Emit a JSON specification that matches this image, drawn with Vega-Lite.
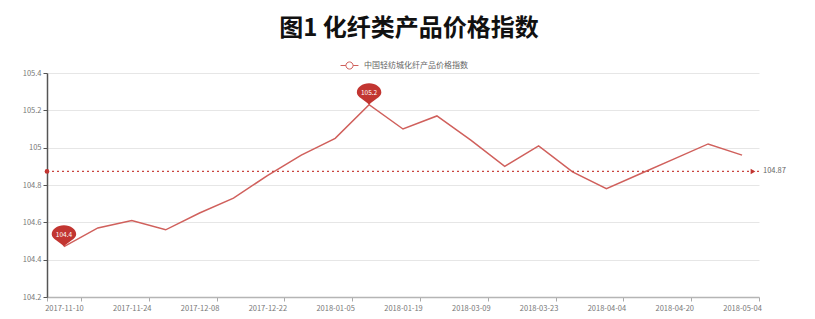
{
  "$schema": "https://vega.github.io/schema/vega-lite/v6.json",
  "autosize": "none",
  "width": 712,
  "height": 224,
  "padding": {"left": 47, "top": 73, "right": 56, "bottom": 22},
  "background": "white",
  "title": {"text": "图1  化纤类产品价格指数", "fontSize": 24, "font": "Noto Sans CJK SC", "fontWeight": "bold", "color": "#111111", "offset": 15, "anchor": "middle", "dx": 6},
  "config": {
    "view": {"stroke": null},
    "font": "Noto Sans CJK SC",
    "axisX": {
      "labelAngle": 0, "labelFontSize": 7.5, "labelColor": "#777777", "labelPadding": 3,
      "tickBand": "extent", "ticks": true, "tickSize": 4, "tickColor": "#aaaaaa",
      "domainColor": "#b5b5b5", "domainWidth": 1.5, "grid": false
    },
    "axisY": {
      "labelFontSize": 7.5, "labelColor": "#777777", "labelPadding": 2, "labelOverlap": false,
      "tickSize": 4, "tickColor": "#555555", "domainColor": "#555555", "domainWidth": 1.5,
      "grid": true, "gridColor": "#e6e6e6"
    }
  },
  "data": {"values": [
    {"date": "2017-11-10", "value": 104.47, "series": "中国轻纺城化纤产品价格指数"},
    {"date": "2017-11-17", "value": 104.57, "series": "中国轻纺城化纤产品价格指数"},
    {"date": "2017-11-24", "value": 104.61, "series": "中国轻纺城化纤产品价格指数"},
    {"date": "2017-12-01", "value": 104.56, "series": "中国轻纺城化纤产品价格指数"},
    {"date": "2017-12-08", "value": 104.65, "series": "中国轻纺城化纤产品价格指数"},
    {"date": "2017-12-15", "value": 104.73, "series": "中国轻纺城化纤产品价格指数"},
    {"date": "2017-12-22", "value": 104.85, "series": "中国轻纺城化纤产品价格指数"},
    {"date": "2017-12-29", "value": 104.96, "series": "中国轻纺城化纤产品价格指数"},
    {"date": "2018-01-05", "value": 105.05, "series": "中国轻纺城化纤产品价格指数"},
    {"date": "2018-01-12", "value": 105.23, "series": "中国轻纺城化纤产品价格指数"},
    {"date": "2018-01-19", "value": 105.10, "series": "中国轻纺城化纤产品价格指数"},
    {"date": "2018-03-02", "value": 105.17, "series": "中国轻纺城化纤产品价格指数"},
    {"date": "2018-03-09", "value": 105.04, "series": "中国轻纺城化纤产品价格指数"},
    {"date": "2018-03-16", "value": 104.90, "series": "中国轻纺城化纤产品价格指数"},
    {"date": "2018-03-23", "value": 105.01, "series": "中国轻纺城化纤产品价格指数"},
    {"date": "2018-03-30", "value": 104.87, "series": "中国轻纺城化纤产品价格指数"},
    {"date": "2018-04-04", "value": 104.78, "series": "中国轻纺城化纤产品价格指数"},
    {"date": "2018-04-13", "value": 104.86, "series": "中国轻纺城化纤产品价格指数"},
    {"date": "2018-04-20", "value": 104.94, "series": "中国轻纺城化纤产品价格指数"},
    {"date": "2018-04-27", "value": 105.02, "series": "中国轻纺城化纤产品价格指数"},
    {"date": "2018-05-04", "value": 104.96, "series": "中国轻纺城化纤产品价格指数"}
  ]},
  "layer": [
    {
      "mark": {"type": "line", "strokeWidth": 1.5},
      "encoding": {
        "x": {
          "field": "date", "type": "ordinal", "sort": null,
          "scale": {"type": "band", "paddingInner": 0, "paddingOuter": 0},
          "axis": {"title": null, "values": ["2017-11-10", "2017-11-24", "2017-12-08", "2017-12-22", "2018-01-05", "2018-01-19", "2018-03-09", "2018-03-23", "2018-04-04", "2018-04-20", "2018-05-04"]}
        },
        "y": {
          "field": "value", "type": "quantitative",
          "scale": {"domain": [104.2, 105.4], "nice": false, "zero": false},
          "axis": {"title": null, "values": [104.2, 104.4, 104.6, 104.8, 105.0, 105.2, 105.4], "format": ".6~g"}
        },
        "color": {
          "field": "series", "type": "nominal",
          "scale": {"range": ["#d0605c"]},
          "legend": {
            "title": null, "orient": "none", "legendX": 293, "legendY": -17,
            "symbolType": "M-1,0L-0.4,0M0.4,0L1,0M-0.4,0A0.4,0.4 0 1,1 0.4,0A0.4,0.4 0 1,1 -0.4,0Z",
            "symbolSize": 320, "symbolFillColor": "white", "symbolStrokeColor": "#d0605c", "symbolStrokeWidth": 1,
            "labelFontSize": 8, "labelColor": "#666666", "labelOffset": 5
          }
        }
      }
    },
    {
      "mark": {"type": "rule", "color": "#c9443f", "strokeDash": [2, 3], "strokeWidth": 1.2},
      "encoding": {
        "y": {"aggregate": "mean", "field": "value", "type": "quantitative",
              "axis": {"title": null, "values": [104.2, 104.4, 104.6, 104.8, 105.0, 105.2, 105.4], "format": ".6~g"}}
      }
    },
    {
      "transform": [
        {"joinaggregate": [{"op": "mean", "field": "value", "as": "avg"}]},
        {"window": [{"op": "row_number", "as": "rn"}]},
        {"filter": "datum.rn == 1"}
      ],
      "mark": {"type": "point", "shape": "circle", "filled": true, "color": "#c23531", "size": 22, "opacity": 1},
      "encoding": {
        "x": {"field": "date", "type": "ordinal", "sort": null, "bandPosition": 0,
              "axis": {"title": null, "values": ["2017-11-10", "2017-11-24", "2017-12-08", "2017-12-22", "2018-01-05", "2018-01-19", "2018-03-09", "2018-03-23", "2018-04-04", "2018-04-20", "2018-05-04"]}},
        "y": {"field": "avg", "type": "quantitative",
              "axis": {"title": null, "values": [104.2, 104.4, 104.6, 104.8, 105.0, 105.2, 105.4], "format": ".6~g"}}
      }
    },
    {
      "transform": [
        {"joinaggregate": [{"op": "mean", "field": "value", "as": "avg"}, {"op": "count", "as": "n"}]},
        {"window": [{"op": "row_number", "as": "rn"}]},
        {"filter": "datum.rn == datum.n"}
      ],
      "encoding": {
        "x": {"field": "date", "type": "ordinal", "sort": null, "bandPosition": 1,
              "axis": {"title": null, "values": ["2017-11-10", "2017-11-24", "2017-12-08", "2017-12-22", "2018-01-05", "2018-01-19", "2018-03-09", "2018-03-23", "2018-04-04", "2018-04-20", "2018-05-04"]}},
        "y": {"field": "avg", "type": "quantitative",
              "axis": {"title": null, "values": [104.2, 104.4, 104.6, 104.8, 105.0, 105.2, 105.4], "format": ".6~g"}}
      },
      "layer": [
        {
          "mark": {"type": "point", "shape": "triangle-right", "filled": true, "color": "#c23531", "size": 30, "opacity": 1, "xOffset": -6}
        },
        {
          "mark": {"type": "text", "align": "left", "baseline": "middle", "dx": 4, "fontSize": 7.5, "color": "#666666"},
          "encoding": {
            "text": {"field": "avg", "type": "quantitative", "format": ".2f"}
          }
        }
      ]
    },
    {
      "transform": [
        {"joinaggregate": [{"op": "max", "field": "value", "as": "vmax"}, {"op": "min", "field": "value", "as": "vmin"}]},
        {"filter": "datum.value == datum.vmax || datum.value == datum.vmin"},
        {"calculate": "format(floor(datum.value * 10) / 10, '.1f')", "as": "label"}
      ],
      "encoding": {
        "x": {"field": "date", "type": "ordinal", "sort": null,
              "axis": {"title": null, "values": ["2017-11-10", "2017-11-24", "2017-12-08", "2017-12-22", "2018-01-05", "2018-01-19", "2018-03-09", "2018-03-23", "2018-04-04", "2018-04-20", "2018-05-04"]}},
        "y": {"field": "value", "type": "quantitative",
              "axis": {"title": null, "values": [104.2, 104.4, 104.6, 104.8, 105.0, 105.2, 105.4], "format": ".6~g"}}
      },
      "layer": [
        {
          "mark": {
            "type": "point", "filled": true, "color": "#c23531", "opacity": 1, "size": 600,
            "shape": "M0,0 C-0.35,-0.4 -1,-0.6 -1,-1 A1,0.75 0 1,1 1,-1 C1,-0.6 0.35,-0.4 0,0 Z"
          }
        },
        {
          "mark": {"type": "text", "color": "white", "fontSize": 6.5, "baseline": "middle", "dy": -12},
          "encoding": {
            "text": {"field": "label", "type": "nominal"}
          }
        }
      ]
    }
  ]
}
